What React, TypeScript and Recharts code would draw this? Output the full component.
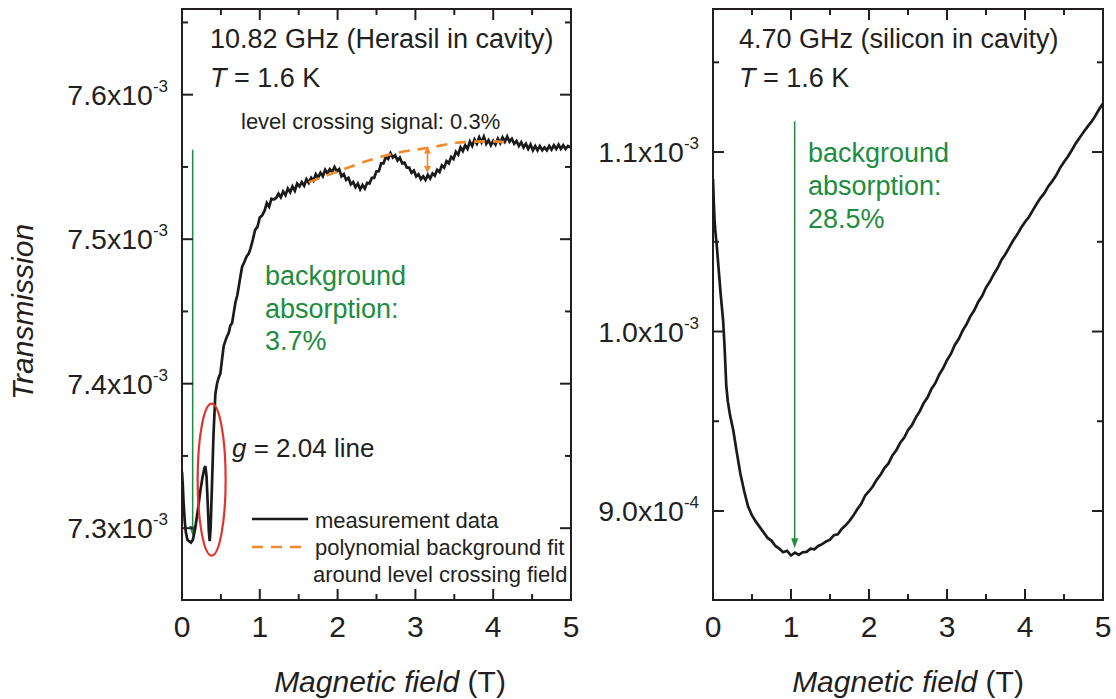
import React from "react"
import { LineChart, Line, XAxis, YAxis, ReferenceArea, ReferenceLine, ReferenceDot } from "recharts"

const FONT = "'Liberation Sans', Arial, Helvetica, sans-serif"
const INK = "#231f20"
const GREEN = "#1d8c3e"
const ORANGE = "#f28a2b"
const RED = "#e4322b"

// ---- shared x axis (magnetic field, T)
const fieldTicks = [0, 0.5, 1, 1.5, 2, 2.5, 3, 3.5, 4, 4.5, 5]

// ---- left panel: 10.82 GHz, Herasil (transmission in units of 1e-3)
const herasilField = [
  0, 0.01, 0.02, 0.035, 0.05, 0.07, 0.09, 0.116, 0.14, 0.17, 0.2, 0.236, 0.26, 0.285, 0.3, 0.315, 0.33, 0.345,
  0.356, 0.368, 0.386, 0.405, 0.429, 0.45, 0.47, 0.493, 0.515, 0.536, 0.56, 0.58, 0.6, 0.62, 0.644, 0.665, 0.686,
  0.71, 0.729, 0.75, 0.773, 0.8, 0.83, 0.858,
  0.88, 0.91, 0.94, 0.97, 1.0, 1.03, 1.06, 1.09, 1.12, 1.15, 1.18, 1.21, 1.24, 1.27, 1.3, 1.33, 1.36, 1.39, 1.42,
  1.45, 1.48, 1.51, 1.54, 1.57, 1.6, 1.63, 1.66, 1.69, 1.72, 1.75, 1.78, 1.81, 1.84, 1.87, 1.9, 1.93, 1.96, 1.99,
  2.02, 2.05, 2.08, 2.11, 2.14, 2.17, 2.2, 2.23, 2.26, 2.29, 2.32, 2.35, 2.38, 2.41, 2.44, 2.47, 2.5, 2.53, 2.56,
  2.59, 2.62, 2.65, 2.68, 2.71, 2.74, 2.77, 2.8, 2.83, 2.86, 2.89, 2.92, 2.95, 2.98, 3.01, 3.04, 3.07, 3.1, 3.13,
  3.16, 3.19, 3.22, 3.25, 3.28, 3.31, 3.34, 3.37, 3.4, 3.43, 3.46, 3.49, 3.52, 3.55, 3.58, 3.61, 3.64, 3.67, 3.7,
  3.73, 3.76, 3.79, 3.82, 3.85, 3.88, 3.91, 3.94, 3.97, 4.0, 4.03, 4.06, 4.09, 4.12, 4.15, 4.18, 4.21, 4.24, 4.27,
  4.3, 4.33, 4.36, 4.39, 4.42, 4.45, 4.48, 4.51, 4.54, 4.57, 4.6, 4.63, 4.66, 4.69, 4.72, 4.75, 4.78, 4.81, 4.84,
  4.87, 4.9, 4.93, 4.96, 4.99,
]
const herasilTransmission = [
  7.339, 7.33, 7.318, 7.305, 7.297, 7.292, 7.291, 7.29, 7.292, 7.3, 7.311, 7.326, 7.334, 7.341, 7.343, 7.336, 7.318,
  7.298, 7.291, 7.3, 7.331, 7.365, 7.393, 7.4, 7.404, 7.407, 7.417, 7.426, 7.43, 7.433, 7.435, 7.44, 7.442, 7.449,
  7.456, 7.461, 7.467, 7.474, 7.481, 7.484, 7.488, 7.49,
  7.4935, 7.4995, 7.5065, 7.5085, 7.515, 7.5165, 7.5195, 7.525, 7.5225, 7.528, 7.5275, 7.5285, 7.5315, 7.529, 7.533,
  7.5305, 7.535, 7.5325, 7.5365, 7.5335, 7.5385, 7.5365, 7.5395, 7.537, 7.5415, 7.539, 7.5425, 7.5405, 7.545,
  7.5425, 7.546, 7.5435, 7.548, 7.5455, 7.5485, 7.5465, 7.55, 7.547, 7.5485, 7.5435, 7.545, 7.541, 7.5425, 7.538,
  7.5395, 7.536, 7.5385, 7.5345, 7.5375, 7.535, 7.539, 7.5385, 7.5425, 7.5425, 7.547, 7.547, 7.5525, 7.5525, 7.557,
  7.5555, 7.5595, 7.5565, 7.558, 7.5545, 7.5565, 7.5525, 7.553, 7.5495, 7.5495, 7.546, 7.5475, 7.5435, 7.545,
  7.5415, 7.5435, 7.541, 7.5445, 7.542, 7.5455, 7.544, 7.548, 7.5465, 7.551, 7.5495, 7.554, 7.5525, 7.557, 7.5555,
  7.5605, 7.5585, 7.5635, 7.561, 7.565, 7.5625, 7.5675, 7.5645, 7.569, 7.566, 7.5705, 7.567, 7.571, 7.566, 7.5685,
  7.565, 7.568, 7.5655, 7.5695, 7.5665, 7.5705, 7.5675, 7.571, 7.5675, 7.5695, 7.566, 7.568, 7.5645, 7.567, 7.5635,
  7.566, 7.5625, 7.5655, 7.5615, 7.5645, 7.5615, 7.5645, 7.5615, 7.5635, 7.5615, 7.5645, 7.562, 7.565, 7.5625,
  7.5655, 7.5625, 7.565, 7.5625, 7.5645, 7.5635,
]
// polynomial background fit around the level crossing field
const fitField = [1.63, 2.0, 2.43, 2.85, 3.16, 3.58, 3.97, 4.23]
const fitTransmission = [7.5393, 7.5469, 7.555, 7.5607, 7.5631, 7.567, 7.5677, 7.5666]

const leftDomain = [7.2503, 7.6593]
const leftYTicks = [7.3, 7.35, 7.4, 7.45, 7.5, 7.55, 7.6, 7.65]
const leftYMajor = [7.3, 7.4, 7.5, 7.6]
const leftYLabels = ["7.3x10", "7.4x10", "7.5x10", "7.6x10"]
const leftYExp = ["-3", "-3", "-3", "-3"]

// ---- right panel: 4.70 GHz, silicon (transmission in units of 1e-3)
const siliconField = [
  0, 0.01, 0.02, 0.03, 0.05, 0.07, 0.1, 0.13, 0.15, 0.17, 0.19, 0.22, 0.26, 0.3, 0.35, 0.4, 0.45, 0.5, 0.55, 0.6,
  0.65, 0.7, 0.75, 0.8, 0.85, 0.9, 0.95, 1.0, 1.05, 1.1, 1.15, 1.2, 1.25, 1.3, 1.35, 1.4, 1.45, 1.5, 1.55, 1.6,
  1.65, 1.7, 1.75, 1.8, 1.85, 1.9, 1.95, 2.0, 2.05, 2.1, 2.15, 2.2, 2.25, 2.3, 2.35, 2.4, 2.45, 2.5, 2.55, 2.6,
  2.65, 2.7, 2.75, 2.8, 2.85, 2.9, 2.95, 3.0, 3.05, 3.1, 3.15, 3.2, 3.25, 3.3, 3.35, 3.4, 3.45, 3.5, 3.55, 3.6,
  3.65, 3.7, 3.75, 3.8, 3.85, 3.9, 3.95, 4.0, 4.05, 4.1, 4.15, 4.2, 4.25, 4.3, 4.35, 4.4, 4.45, 4.5, 4.55, 4.6,
  4.65, 4.7, 4.75, 4.8, 4.85, 4.9, 4.95, 5.0,
]
const siliconTransmission = [
  1.085, 1.072, 1.062, 1.056, 1.047, 1.036, 1.02, 1.006, 0.99, 0.97, 0.961, 0.953, 0.945, 0.934, 0.921, 0.911,
  0.9025, 0.8975, 0.894, 0.891, 0.888, 0.885, 0.8835, 0.8805, 0.879, 0.877, 0.8778, 0.8752, 0.8768, 0.8755, 0.877,
  0.8772, 0.879, 0.8786, 0.8805, 0.8815, 0.883, 0.884, 0.8865, 0.887, 0.89, 0.892, 0.8945, 0.8975, 0.901, 0.904,
  0.9085, 0.911, 0.9138, 0.9175, 0.9203, 0.924, 0.9265, 0.931, 0.9338, 0.938, 0.9408, 0.945, 0.9478, 0.952, 0.9555,
  0.96, 0.9632, 0.968, 0.9712, 0.976, 0.9795, 0.984, 0.9875, 0.9925, 0.9958, 1.0005, 1.004, 1.0085, 1.0118, 1.0165,
  1.0198, 1.0245, 1.0278, 1.032, 1.0355, 1.04, 1.0432, 1.047, 1.0508, 1.054, 1.0578, 1.061, 1.0638, 1.0675, 1.0712,
  1.0745, 1.0772, 1.081, 1.0838, 1.087, 1.0912, 1.0945, 1.0975, 1.101, 1.1048, 1.108, 1.111, 1.114, 1.1168, 1.12,
  1.1238, 1.127,
]
const rightDomain = [0.8504, 1.1797]
const rightYTicks = [0.9, 0.95, 1.0, 1.05, 1.1, 1.15]
const rightYMajor = [0.9, 1.0, 1.1]
const rightYLabels = ["9.0x10", "1.0x10", "1.1x10"]
const rightYExp = ["-4", "-3", "-3"]

const herasilData = herasilField.map((x, i) => ({ x, t: herasilTransmission[i] }))
const fitData = fitField.map((x, i) => ({ x, t: fitTransmission[i] }))
const siliconData = siliconField.map((x, i) => ({ x, t: siliconTransmission[i] }))

const PLOT_TOP = 9
const CHART_H = 699
const X_AXIS_H = 99

function makeXTick(plotTop: number) {
  return (props: any) => {
    const { x, y, payload } = props
    const major = Number.isInteger(payload.value)
    const len = major ? 11 : 6
    return (
      <g>
        <line x1={x} y1={y} x2={x} y2={y - len} stroke={INK} strokeWidth={2} />
        <line x1={x} y1={plotTop} x2={x} y2={plotTop + len} stroke={INK} strokeWidth={2} />
        {major && (
          <text x={x} y={y + 37} textAnchor="middle" fontSize={30} fontFamily={FONT} fill={INK}>
            {payload.value}
          </text>
        )}
      </g>
    )
  }
}

function makeYTick(plotWidth: number, majors: number[], labels: string[], exps: string[]) {
  return (props: any) => {
    const { x, y, payload } = props
    const idx = majors.indexOf(payload.value)
    const major = idx >= 0
    const len = major ? 11 : 6
    return (
      <g>
        <line x1={x} y1={y} x2={x + len} y2={y} stroke={INK} strokeWidth={2} />
        <line x1={x + plotWidth} y1={y} x2={x + plotWidth - len} y2={y} stroke={INK} strokeWidth={2} />
        {major && (
          <text x={x - 14} y={y + 10} textAnchor="end" fontSize={28.5} fontFamily={FONT} fill={INK}>
            <tspan>{labels[idx]}</tspan>
            <tspan fontSize={17} dy={-13}>
              {exps[idx]}
            </tspan>
          </text>
        )}
      </g>
    )
  }
}

// line with filled arrow head(s), used as ReferenceLine shape
function ArrowLine(props: any) {
  const { x1, y1, x2, y2, color, width = 1.5, head = 10, half = 4, both = false } = props
  const dx = x2 - x1
  const dy = y2 - y1
  const d = Math.hypot(dx, dy) || 1
  const ux = dx / d
  const uy = dy / d
  const tri = (tx: number, ty: number, sx: number, sy: number) => {
    const bx = tx - sx * head
    const by = ty - sy * head
    return `${tx},${ty} ${bx - sy * half},${by + sx * half} ${bx + sy * half},${by - sx * half}`
  }
  const sx = both ? x1 + ux * head * 0.8 : x1
  const sy = both ? y1 + uy * head * 0.8 : y1
  return (
    <g>
      <line x1={sx} y1={sy} x2={x2 - ux * head * 0.8} y2={y2 - uy * head * 0.8} stroke={color} strokeWidth={width} />
      <polygon points={tri(x2, y2, ux, uy)} fill={color} />
      {both && <polygon points={tri(x1, y1, -ux, -uy)} fill={color} />}
    </g>
  )
}

function LeftPanel() {
  const width = 590
  const yAxisW = 182
  const right = 19
  const plotW = width - yAxisW - right
  return (
    <LineChart width={width} height={CHART_H} margin={{ top: PLOT_TOP, right, bottom: 0, left: 0 }}>
      <XAxis
        type="number"
        dataKey="x"
        domain={[0, 5]}
        ticks={fieldTicks}
        interval={0}
        allowDataOverflow
        height={X_AXIS_H}
        axisLine={false}
        tickLine={false}
        tickSize={0}
        tickMargin={0}
        tick={makeXTick(PLOT_TOP)}
      />
      <YAxis
        type="number"
        domain={leftDomain}
        ticks={leftYTicks}
        interval={0}
        allowDataOverflow
        width={yAxisW}
        axisLine={false}
        tickLine={false}
        tickSize={0}
        tickMargin={0}
        tick={makeYTick(plotW, leftYMajor, leftYLabels, leftYExp)}
      />
      <ReferenceArea x1={0} x2={5} y1={leftDomain[0]} y2={leftDomain[1]} fill="none" stroke={INK} strokeWidth={2} />
      <ReferenceLine
        segment={[{ x: 0.137, y: 7.5619 }, { x: 0.137, y: 7.2946 }]}
        shape={(p: any) => <ArrowLine {...p} color={GREEN} width={1.5} head={10} half={3.5} />}
      />
      <Line
        data={herasilData}
        dataKey="t"
        type="linear"
        stroke="#1a1a1a"
        strokeWidth={2.7}
        dot={false}
        isAnimationActive={false}
      />
      <Line
        data={fitData}
        dataKey="t"
        type="monotone"
        stroke={ORANGE}
        strokeWidth={2.6}
        strokeDasharray="11 8"
        dot={false}
        isAnimationActive={false}
      />
      <ReferenceLine
        segment={[{ x: 3.155, y: 7.5642 }, { x: 3.155, y: 7.5458 }]}
        shape={(p: any) => <ArrowLine {...p} color={ORANGE} width={1.6} head={7} half={3.5} both />}
      />
      <ReferenceDot
        x={0.381}
        y={7.3336}
        shape={(p: any) => (
          <ellipse cx={p.cx} cy={p.cy} rx={14} ry={76} fill="none" stroke={RED} strokeWidth={2.2} />
        )}
      />
    </LineChart>
  )
}

function RightPanel() {
  const width = 526
  const yAxisW = 123
  const right = 13
  const plotW = width - yAxisW - right
  return (
    <LineChart width={width} height={CHART_H} margin={{ top: PLOT_TOP, right, bottom: 0, left: 0 }}>
      <XAxis
        type="number"
        dataKey="x"
        domain={[0, 5]}
        ticks={fieldTicks}
        interval={0}
        allowDataOverflow
        height={X_AXIS_H}
        axisLine={false}
        tickLine={false}
        tickSize={0}
        tickMargin={0}
        tick={makeXTick(PLOT_TOP)}
      />
      <YAxis
        type="number"
        domain={rightDomain}
        ticks={rightYTicks}
        interval={0}
        allowDataOverflow
        width={yAxisW}
        axisLine={false}
        tickLine={false}
        tickSize={0}
        tickMargin={0}
        tick={makeYTick(plotW, rightYMajor, rightYLabels, rightYExp)}
      />
      <ReferenceArea x1={0} x2={5} y1={rightDomain[0]} y2={rightDomain[1]} fill="none" stroke={INK} strokeWidth={2} />
      <ReferenceLine
        segment={[{ x: 1.047, y: 1.1171 }, { x: 1.047, y: 0.8792 }]}
        shape={(p: any) => <ArrowLine {...p} color={GREEN} width={1.5} head={10} half={3.5} />}
      />
      <Line
        data={siliconData}
        dataKey="t"
        type="linear"
        stroke="#1a1a1a"
        strokeWidth={2.7}
        dot={false}
        isAnimationActive={false}
      />
    </LineChart>
  )
}

function Annotations() {
  const t = { fontFamily: FONT, fill: INK }
  return (
    <svg
      width={1116}
      height={699}
      style={{ position: "absolute", left: 0, top: 0, pointerEvents: "none" }}
    >
      {/* axis titles */}
      <text {...t} x={33} y={312} fontSize={30} fontStyle="italic" textAnchor="middle" transform="rotate(-90 33 312)">
        Transmission
      </text>
      <text {...t} x={390} y={692} fontSize={30} textAnchor="middle">
        <tspan fontStyle="italic">Magnetic field</tspan> (T)
      </text>
      <text {...t} x={908} y={692} fontSize={30} textAnchor="middle">
        <tspan fontStyle="italic">Magnetic field</tspan> (T)
      </text>

      {/* left panel */}
      <text {...t} x={210} y={48} fontSize={27}>
        10.82 GHz (Herasil in cavity)
      </text>
      <text {...t} x={210} y={87} fontSize={27}>
        <tspan fontStyle="italic">T</tspan> = 1.6 K
      </text>
      <text {...t} x={241} y={129} fontSize={22}>
        level crossing signal: 0.3%
      </text>
      <g fontFamily={FONT} fill={GREEN} fontSize={27}>
        <text x={265} y={285}>background</text>
        <text x={265} y={318}>absorption:</text>
        <text x={265} y={350}>3.7%</text>
      </g>
      <text {...t} x={232} y={457} fontSize={26}>
        <tspan fontStyle="italic">g</tspan> = 2.04 line
      </text>
      <line x1={252} y1={519} x2={308} y2={519} stroke="#1a1a1a" strokeWidth={2.7} />
      <line x1={252} y1={547} x2={308} y2={547} stroke={ORANGE} strokeWidth={2.6} strokeDasharray="11 8" />
      <text {...t} x={315} y={528} fontSize={22}>
        measurement data
      </text>
      <text {...t} x={315} y={555} fontSize={22}>
        polynomial background fit
      </text>
      <text {...t} x={313} y={582} fontSize={22}>
        around level crossing field
      </text>

      {/* right panel */}
      <text {...t} x={739} y={48} fontSize={27}>
        4.70 GHz (silicon in cavity)
      </text>
      <text {...t} x={739} y={87} fontSize={27}>
        <tspan fontStyle="italic">T</tspan> = 1.6 K
      </text>
      <g fontFamily={FONT} fill={GREEN} fontSize={27}>
        <text x={808} y={162}>background</text>
        <text x={808} y={195}>absorption:</text>
        <text x={808} y={228}>28.5%</text>
      </g>
    </svg>
  )
}

export default function App() {
  return (
    <div style={{ position: "absolute", left: 0, top: 0, width: 1116, height: 699, background: "#fff" }}>
      <div style={{ position: "absolute", left: 0, top: 0 }}>
        <LeftPanel />
      </div>
      <div style={{ position: "absolute", left: 590, top: 0 }}>
        <RightPanel />
      </div>
      <Annotations />
    </div>
  )
}
